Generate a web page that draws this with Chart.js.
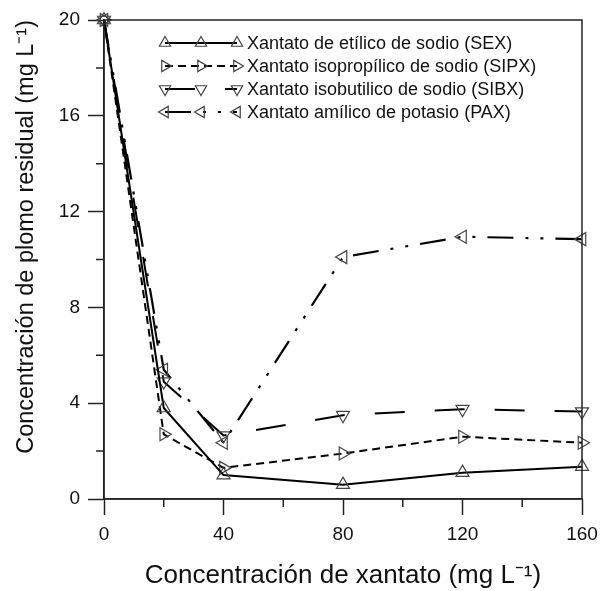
<!DOCTYPE html>
<html>
<head>
<meta charset="utf-8">
<script src="https://cdn.jsdelivr.net/npm/chart.js@4/dist/chart.umd.min.js"></script>
<style>
  html, body { margin: 0; padding: 0; background: #fff; }
  #wrap { width: 601px; height: 591px; }
</style>
</head>
<body>
<div id="wrap"><canvas id="chart" width="601" height="591"></canvas></div>
<script>
// xanthate dose (mg/L)
const xValues = [0, 20, 40, 80, 120, 160];
// residual lead (mg/L) per collector
const sexValues  = [20, 3.8, 1.0, 0.6, 1.1, 1.35];
const sipxValues = [20, 2.7, 1.3, 1.9, 2.6, 2.35];
const sibxValues = [20, 4.9, 2.65, 3.5, 3.75, 3.65];
const paxValues  = [20, 5.4, 2.35, 10.1, 10.95, 10.85];

const seriesNames = [
    "Xantato de etílico de sodio (SEX)",
    "Xantato isopropílico de sodio (SIPX)",
    "Xantato isobutilico de sodio (SIBX)",
    "Xantato amílico de potasio (PAX)"
];

const xMinorTicks = [20, 60, 100, 140];
const yMinorTicks = [2, 6, 10, 14, 18];

const FONT = "'Liberation Sans', Arial, sans-serif";

function toPoints(vals) {
    return vals.map((v, i) => ({ x: xValues[i], y: v }));
}

function makeSet(label, vals, dash, rot, width) {
    return {
        label: label,
        data: toPoints(vals),
        borderColor: '#000',
        borderWidth: width,
        borderDash: dash,
        borderCapStyle: 'butt',
        tension: 0,
        fill: false,
        pointStyle: 'triangle',
        rotation: rot,
        pointRadius: 7.5,
        pointHoverRadius: 7.5,
        pointBorderColor: '#444',
        pointBorderWidth: 1.2,
        pointBackgroundColor: 'rgba(255,255,255,0)',
        clip: false
    };
}

const datasets = [
    makeSet(seriesNames[0], sexValues, [], 0, 2),
    makeSet(seriesNames[1], sipxValues, [8, 5], 90, 2),
    makeSet(seriesNames[2], sibxValues, [30, 30], 180, 2),
    makeSet(seriesNames[3], paxValues, [26, 12, 3, 12, 3, 12], 270, 2.2)
];

// box round the plot + minor ticks
const framePlugin = {
    id: 'frame',
    afterDraw(chart) {
        const { ctx, chartArea: a, scales } = chart;
        ctx.save();
        ctx.strokeStyle = '#222';
        ctx.lineWidth = 1.5;
        ctx.strokeRect(a.left, a.top, a.right - a.left, a.bottom - a.top);
        ctx.beginPath();
        xMinorTicks.forEach(v => {
            const px = scales.x.getPixelForValue(v);
            ctx.moveTo(px, a.bottom);
            ctx.lineTo(px, a.bottom + 8);
        });
        yMinorTicks.forEach(v => {
            const py = scales.y.getPixelForValue(v);
            ctx.moveTo(a.left, py);
            ctx.lineTo(a.left - 8, py);
        });
        ctx.stroke();
        ctx.restore();
    }
};

// legend inside the plot, line sample with three markers
const legendPlugin = {
    id: 'innerLegend',
    afterDatasetsDraw(chart) {
        const { ctx, chartArea: a } = chart;
        const x0 = a.left + 61, x1 = a.left + 133;
        ctx.save();
        chart.data.datasets.forEach((ds, i) => {
            const y = a.top + 23 + i * 23;
            ctx.strokeStyle = ds.borderColor;
            ctx.lineWidth = ds.borderWidth;
            ctx.setLineDash(ds.borderDash);
            ctx.beginPath();
            ctx.moveTo(x0, y);
            ctx.lineTo(x1, y);
            ctx.stroke();
            ctx.setLineDash([]);
            ctx.strokeStyle = '#444';
            ctx.fillStyle = 'rgba(255,255,255,0)';
            ctx.lineWidth = 1.2;
            [x0, (x0 + x1) / 2, x1].forEach(px => {
                Chart.helpers.drawPoint(ctx, {
                    pointStyle: 'triangle',
                    rotation: ds.rotation,
                    radius: 6.5,
                    borderWidth: 1.2
                }, px, y);
            });
            ctx.fillStyle = '#111';
            ctx.font = '18px ' + FONT;
            ctx.textBaseline = 'middle';
            ctx.fillText(ds.label, x1 + 10, y + 1);
        });
        ctx.restore();
    }
};

new Chart(document.getElementById('chart'), {
    type: 'line',
    data: { datasets: datasets },
    plugins: [framePlugin, legendPlugin],
    options: {
        responsive: false,
        animation: false,
        layout: { padding: { top: 20, right: 19, left: 0, bottom: 0 } },
        plugins: {
            legend: { display: false },
            tooltip: { enabled: false }
        },
        scales: {
            x: {
                type: 'linear',
                min: 0,
                max: 160,
                afterFit(scale) {
                    scale.height = 92;
                    scale.paddingLeft = 0;
                    scale.paddingRight = 0;
                },
                ticks: {
                    stepSize: 40,
                    color: '#111',
                    padding: 8,
                    maxRotation: 0,
                    font: { family: FONT, size: 19 }
                },
                grid: {
                    drawOnChartArea: false,
                    drawTicks: true,
                    tickLength: 16,
                    tickColor: '#222',
                    tickWidth: 1.5
                },
                border: { color: '#222', width: 1.5 },
                title: {
                    display: true,
                    text: 'Concentración de xantato (mg L⁻¹)',
                    color: '#111',
                    padding: { top: 0, bottom: 0 },
                    font: { family: FONT, size: 26 }
                }
            },
            y: {
                min: 0,
                max: 20,
                afterFit(scale) {
                    scale.width = 104;
                    scale.paddingTop = 0;
                    scale.paddingBottom = 0;
                },
                ticks: {
                    stepSize: 4,
                    color: '#111',
                    padding: 8,
                    font: { family: FONT, size: 19 }
                },
                grid: {
                    drawOnChartArea: false,
                    drawTicks: true,
                    tickLength: 16,
                    tickColor: '#222',
                    tickWidth: 1.5
                },
                border: { color: '#222', width: 1.5 },
                title: {
                    display: true,
                    align: 'end',
                    text: 'Concentración de plomo residual (mg L⁻¹)',
                    color: '#111',
                    padding: { top: 12, bottom: 0 },
                    font: { family: FONT, size: 23.5 }
                }
            }
        }
    }
});
</script>
</body>
</html>
